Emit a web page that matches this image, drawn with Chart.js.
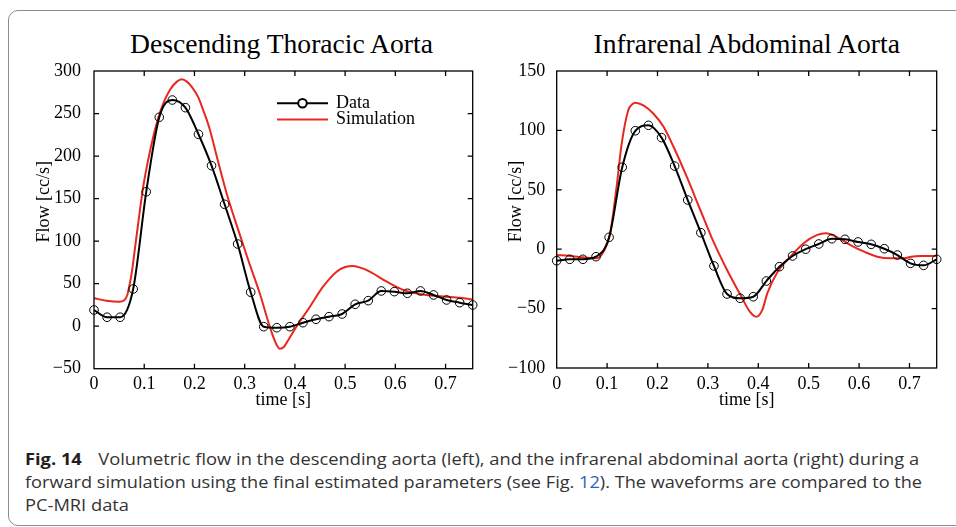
<!DOCTYPE html>
<html>
<head>
<meta charset="utf-8">
<script src="https://cdn.jsdelivr.net/npm/chart.js@4.4.1/dist/chart.umd.min.js"></script>
<style>
  html, body { margin: 0; padding: 0; background: #fff; width: 956px; height: 527px; overflow: hidden; }
  #frame { position: absolute; left: 8px; top: 10px; width: 1000px; height: 516px; box-sizing: border-box;
           border: 1.5px solid #8c8c8c; border-radius: 10px; }
  canvas { position: absolute; top: 0; }
  #thoracic { left: 0; }
  #abdominal { left: 490px; }
  .title { position: absolute; top: 30px; font-family: "Liberation Serif", "Times New Roman", serif;
           font-size: 27.6px; line-height: 28px; color: #000; white-space: nowrap; transform: translateX(-50%); }
  .cap { position: absolute; left: 25px; font-family: "Open Sans", sans-serif; font-size: 15.5px; line-height: 15px;
         color: #333; white-space: nowrap; transform-origin: 0 0; }
  .cap b { color: #231f20; margin-right: 14px; }
  .ref { color: #2a63b8; }
</style>
</head>
<body>
<div id="frame"></div>
<div class="title" style="left:281.5px">Descending Thoracic Aorta</div>
<div class="title" style="left:746.7px">Infrarenal Abdominal Aorta</div>
<canvas id="thoracic" width="490" height="420"></canvas>
<canvas id="abdominal" width="466" height="420"></canvas>
<div class="cap" id="cap1" style="top:451.5px"><b>Fig. 14</b>Volumetric flow in the descending aorta (left), and the infrarenal abdominal aorta (right) during a</div>
<div class="cap" id="cap2" style="top:474.5px">forward simulation using the final estimated parameters (see Fig. <span class="ref">12</span>). The waveforms are compared to the</div>
<div class="cap" id="cap3" style="top:497.5px">PC-MRI data</div>

<script>
// sample times of the PC-MRI measurements (s)
const dataTimes = [0, 0.026, 0.052, 0.078, 0.104, 0.13, 0.156, 0.182, 0.208, 0.234,
                   0.26, 0.286, 0.312, 0.338, 0.364, 0.39, 0.416, 0.442, 0.468, 0.494,
                   0.52, 0.546, 0.572, 0.598, 0.624, 0.65, 0.676, 0.702, 0.728, 0.754];

// descending thoracic aorta
const thoracicData = [19, 10.5, 10.5, 43.7, 158, 245.6, 265.9, 256.9, 225.6, 188.7,
                      143.3, 96.6, 39.9, -0.6, -1.8, -0.6, 4.1, 8.1, 11.2, 14.3,
                      25.7, 30, 41.4, 40.6, 38.7, 41.4, 36.7, 30.8, 27.6, 24.9];
const thoracicSimTimes = [0, 0.025, 0.05, 0.06, 0.066, 0.07, 0.075, 0.082, 0.09, 0.098,
                          0.108, 0.118, 0.128, 0.138, 0.151, 0.165, 0.175, 0.185, 0.195, 0.207,
                          0.218, 0.229, 0.246, 0.264, 0.285, 0.307, 0.33, 0.35, 0.362, 0.37,
                          0.378, 0.388, 0.403, 0.43, 0.456, 0.483, 0.5, 0.516, 0.532, 0.549,
                          0.583, 0.616, 0.649, 0.682, 0.715, 0.74, 0.754];
const thoracicSim = [32.8, 30, 28.8, 30.5, 36, 46.4, 62, 93.5, 130, 164,
                     196, 222.8, 245, 262, 277.7, 287.5, 290.3, 287.5, 281, 269.8,
                     253, 234.5, 196, 156.2, 117, 77.8, 38.7, -0.6, -20, -26.5,
                     -24.5, -15, -0.6, 22.9, 46.4, 64.1, 69.5, 70.8, 68.5, 64.1,
                     52.3, 42.6, 37.9, 35.5, 34, 32.6, 31];

// infrarenal abdominal aorta
const abdominalData = [-9.7, -8.5, -8.5, -6.3, 10, 69, 99.7, 104.3, 93.9, 70,
                       41.4, 13.9, -14.1, -37.7, -41.3, -40, -26.8, -14.7, -5.7, 0,
                       4.4, 8.8, 8.3, 6.1, 4.1, 0.4, -4.9, -11.9, -13.6, -8.5];
const abdominalSimTimes = [0, 0.026, 0.053, 0.08, 0.093, 0.106, 0.119, 0.129, 0.142, 0.15,
                           0.156, 0.172, 0.192, 0.212, 0.232, 0.258, 0.285, 0.311, 0.338, 0.364,
                           0.384, 0.396, 0.408, 0.418, 0.437, 0.464, 0.49, 0.517, 0.534, 0.557,
                           0.583, 0.61, 0.636, 0.663, 0.689, 0.703, 0.722, 0.754];
const abdominalSim = [-4.9, -5.7, -6.8, -7.7, -2, 13, 53, 89, 117, 122,
                      123.3, 121, 114, 103, 86, 61, 33, 6.3, -17.5, -38,
                      -53, -56.8, -51, -37, -20, -6.3, 5, 12, 13.4, 10,
                      3.5, -2.1, -6.3, -7.7, -7.7, -6.3, -5.7, -5.7];

const timeTicks = [0, 0.1, 0.2, 0.3, 0.4, 0.5, 0.6, 0.7];
const thoracicTicks = [-50, 0, 50, 100, 150, 200, 250, 300];
const abdominalTicks = [-100, -50, 0, 50, 100, 150];

const RED = '#e8281e';

Chart.defaults.font.family = '"Liberation Serif", "Times New Roman", serif';
Chart.defaults.font.size = 18;
Chart.defaults.color = '#000';
Chart.defaults.animation = false;

const toPoints = (xs, ys) => xs.map((x, i) => ({ x: x, y: ys[i] }));
const numLabel = v => v < 0 ? '\u2212' + Math.abs(v) : (Math.abs(v) < 1e-9 ? '0' : String(+v.toFixed(1)));

// matlab-like box with inward ticks on all four sides
const boxAxes = {
    id: 'boxAxes',
    afterDatasetsDraw(chart) {
        const { ctx, chartArea: a, scales } = chart;
        const len = 5;
        ctx.save();
        ctx.strokeStyle = '#000';
        ctx.lineWidth = 1.3;
        ctx.beginPath();
        scales.x.ticks.forEach(t => {
            const px = scales.x.getPixelForValue(t.value);
            if (px <= a.left + 1 || px >= a.right - 1) return;
            ctx.moveTo(px, a.bottom); ctx.lineTo(px, a.bottom - len);
            ctx.moveTo(px, a.top); ctx.lineTo(px, a.top + len);
        });
        scales.y.ticks.forEach(t => {
            const py = scales.y.getPixelForValue(t.value);
            if (py <= a.top + 1 || py >= a.bottom - 1) return;
            ctx.moveTo(a.left, py); ctx.lineTo(a.left + len, py);
            ctx.moveTo(a.right, py); ctx.lineTo(a.right - len, py);
        });
        ctx.stroke();
        ctx.strokeRect(a.left, a.top, a.right - a.left, a.bottom - a.top);
        ctx.restore();
    }
};

// legend without a box, placed inside the axes like in the figure
const insideLegend = {
    id: 'insideLegend',
    afterDraw(chart, args, opts) {
        if (!opts.show) return;
        const { ctx } = chart;
        const ds = chart.data.datasets;
        const x0 = 277, x1 = 328, tx = 336;
        const rows = [103.3, 119.5];
        ctx.save();
        ds.forEach((d, i) => {
            const y = rows[i];
            ctx.strokeStyle = d.borderColor;
            ctx.lineWidth = 2;
            ctx.beginPath();
            ctx.moveTo(x0, y); ctx.lineTo(x1, y);
            ctx.stroke();
            if (d.pointRadius > 0) {
                ctx.lineWidth = 2;
                ctx.fillStyle = '#fff';
                ctx.beginPath();
                ctx.arc((x0 + x1) / 2, y, d.pointRadius, 0, Math.PI * 2);
                ctx.fill();
                ctx.stroke();
            }
            ctx.fillStyle = '#000';
            ctx.font = '18px "Liberation Serif", serif';
            ctx.textBaseline = 'middle';
            ctx.fillText(d.label, tx, y - 0.5);
        });
        ctx.restore();
    }
};

function makeChart(id, cfg) {
    return new Chart(document.getElementById(id), {
        type: 'line',
        data: {
            datasets: [{
                label: 'Data',
                data: toPoints(dataTimes, cfg.data),
                borderColor: '#000',
                borderWidth: 2,
                pointRadius: 4.3,
                pointBorderWidth: 1,
                pointBackgroundColor: 'rgba(0,0,0,0)',
                pointBorderColor: '#000',
                cubicInterpolationMode: 'monotone',
                clip: false
            }, {
                label: 'Simulation',
                data: toPoints(cfg.simTimes, cfg.sim),
                borderColor: RED,
                borderWidth: 2,
                pointRadius: 0,
                cubicInterpolationMode: 'monotone',
                clip: false
            }]
        },
        options: {
            responsive: false,
            layout: { padding: { top: 71, right: cfg.padRight, bottom: 0, left: 0 } },
            scales: {
                x: {
                    type: 'linear',
                    min: 0,
                    max: 0.754,
                    afterBuildTicks: s => { s.ticks = timeTicks.map(v => ({ value: v })); },
                    afterFit: s => { s.height = cfg.xHeight; },
                    grid: { display: false },
                    border: { display: false },
                    ticks: { autoSkip: false, maxRotation: 0, padding: -3, callback: v => numLabel(v) },
                    title: { display: true, text: 'time [s]', padding: { top: 0, bottom: 9 } }
                },
                y: {
                    type: 'linear',
                    min: cfg.yTicks[0],
                    max: cfg.yTicks[cfg.yTicks.length - 1],
                    afterBuildTicks: s => { s.ticks = cfg.yTicks.map(v => ({ value: v })); },
                    afterFit: s => { s.width = cfg.yWidth; },
                    grid: { display: false },
                    border: { display: false },
                    ticks: { autoSkip: false, padding: cfg.yPad, callback: v => numLabel(v) },
                    title: { display: true, text: '\u2003\u2003Flow [cc/s]', padding: { top: cfg.yTitlePad, bottom: 0 } }
                }
            },
            plugins: {
                legend: { display: false },
                tooltip: { enabled: false },
                insideLegend: { show: cfg.legend }
            }
        },
        plugins: [boxAxes, insideLegend]
    });
}

makeChart('thoracic', {
    data: thoracicData, simTimes: thoracicSimTimes, sim: thoracicSim, yTicks: thoracicTicks,
    padRight: 17.3, xHeight: 51.3, yWidth: 94, yPad: 5, yTitlePad: 33.2, legend: true
});
makeChart('abdominal', {
    data: abdominalData, simTimes: abdominalSimTimes, sim: abdominalSim, yTicks: abdominalTicks,
    padRight: 19.3, xHeight: 52, yWidth: 66.7, yPad: 3.5, yTitlePad: 15.2, legend: false
});

// squeeze the caption lines to the width of the printed caption
function fitCaption() {
    const l1 = document.getElementById('cap1');
    const l2 = document.getElementById('cap2');
    const l3 = document.getElementById('cap3');
    const k1 = 894 / l1.offsetWidth;
    const k2 = 897 / l2.offsetWidth;
    l1.style.transform = 'scaleX(' + k1 + ')';
    l2.style.transform = 'scaleX(' + k2 + ')';
    l3.style.transform = 'scaleX(' + k1 + ')';
}
fitCaption();
if (document.fonts && document.fonts.ready) document.fonts.ready.then(fitCaption);
</script>
</body>
</html>
